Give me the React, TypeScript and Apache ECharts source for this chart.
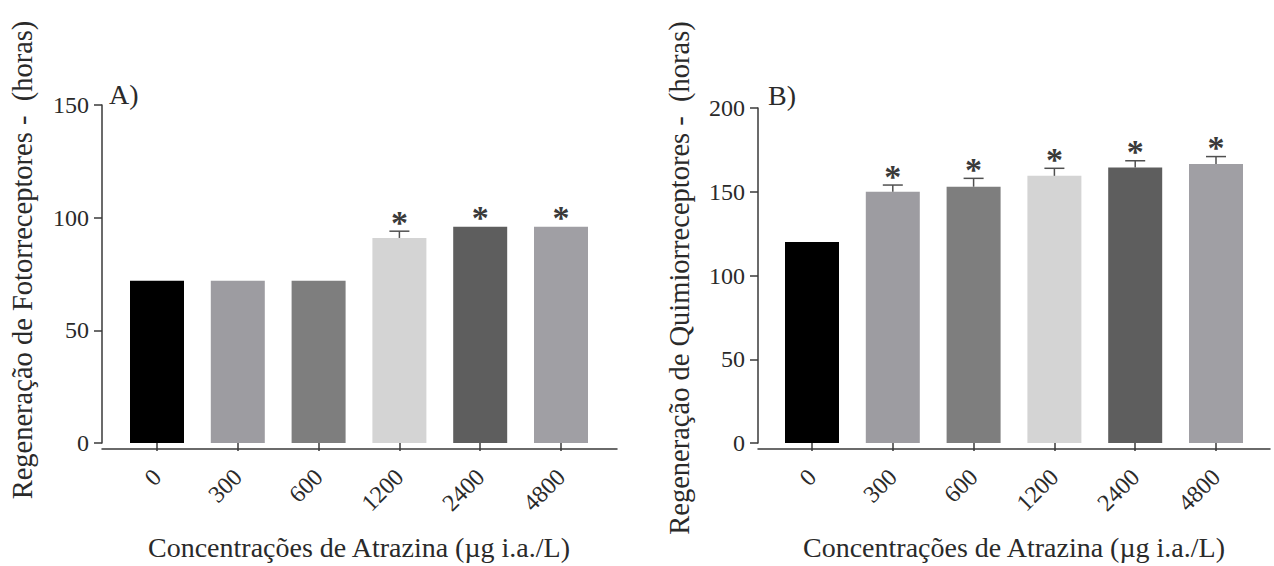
import React, { useEffect, useRef } from "react";
import * as echarts from "echarts";

const categories = ["0", "300", "600", "1200", "2400", "4800"];
const barColors = ["#000000", "#9d9ca1", "#7e7e7e", "#d4d4d4", "#5e5e5e", "#a09fa4"];

const fotoMeans = [72, 72, 72, 91, 96, 96];
const fotoErr = [0, 0, 0, 3, 0, 0];
const fotoSig = [0, 0, 0, 1, 1, 1];

const quimioMeans = [120, 150, 153, 159.5, 164.5, 166.5];
const quimioErr = [0, 4, 5, 4.5, 4, 4.5];
const quimioSig = [0, 1, 1, 1, 1, 1];

const xAxisName = "Concentrações de Atrazina (µg i.a./L)";
const yNameA = "Regeneração de Fotorreceptores -  (horas)";
const yNameB = "Regeneração de Quimiorreceptores -  (horas)";

const FONT = "Liberation Serif";
const AXIS_COLOR = "#3a3a3a";
const TEXT_COLOR = "#2a2a2a";

function errRender(params: any, api: any) {
  const i = api.value(0);
  const v = api.value(1);
  const e = api.value(2);
  const sig = api.value(3);
  const base = api.coord([i, v]);
  const top = api.coord([i, v + e]);
  const children: any[] = [];
  if (e > 0) {
    children.push({
      type: "line",
      shape: { x1: base[0], y1: base[1], x2: top[0], y2: top[1] },
      style: { stroke: "#505050", lineWidth: 1.5 },
    });
    children.push({
      type: "line",
      shape: { x1: top[0] - 10, y1: top[1], x2: top[0] + 10, y2: top[1] },
      style: { stroke: "#505050", lineWidth: 1.5 },
    });
  }
  if (sig) {
    children.push({
      type: "text",
      x: top[0],
      y: top[1] + 8,
      style: {
        text: "*",
        fontFamily: FONT,
        fontSize: 34,
        fontWeight: "bold",
        fill: "#3a3a3a",
        textAlign: "center",
        textVerticalAlign: "bottom",
      },
    });
  }
  return { type: "group", children };
}

function yAxisCfg(gridIndex: number, max: number, offset: number) {
  return {
    type: "value",
    gridIndex,
    min: 0,
    max,
    interval: 50,
    offset,
    axisLine: { show: true, lineStyle: { color: AXIS_COLOR, width: 1.5 } },
    axisTick: { show: true, length: 8, lineStyle: { color: AXIS_COLOR, width: 1.5 } },
    axisLabel: { fontFamily: FONT, fontSize: 24, color: TEXT_COLOR, margin: 13 },
    splitLine: { show: false },
  };
}

function xAxisCfg(gridIndex: number) {
  return {
    type: "category",
    gridIndex,
    data: categories,
    axisLine: { show: false },
    axisTick: { show: true, alignWithLabel: true, length: 8, lineStyle: { color: AXIS_COLOR, width: 1.5 } },
    axisLabel: { fontFamily: FONT, fontSize: 24, color: TEXT_COLOR, rotate: 45, margin: 30 },
    name: xAxisName,
    nameLocation: "middle",
    nameGap: 90,
    nameTextStyle: { fontFamily: FONT, fontSize: 28, color: TEXT_COLOR },
  };
}

function frameX(gridIndex: number) {
  return {
    type: "value",
    gridIndex,
    min: 0,
    max: 1,
    axisLine: { show: true, onZero: false, lineStyle: { color: AXIS_COLOR, width: 1.5 } },
    axisTick: { show: false },
    axisLabel: { show: false },
    splitLine: { show: false },
  };
}

function frameY(gridIndex: number) {
  return { type: "value", gridIndex, min: 0, max: 1, show: false };
}

export default function App() {
  const ref = useRef<HTMLDivElement>(null);
  useEffect(() => {
    if (!ref.current) return;
    const chart = echarts.init(ref.current, null, { renderer: "svg" });
    const option: any = {
      animation: false,
      backgroundColor: "#ffffff",
      grid: [
        { left: 116.6, right: 1274 - 601.4, top: 105, bottom: 117 },
        { left: 771.6, right: 1274 - 1256.4, top: 108, bottom: 117 },
        { left: 102, right: 1274 - 617, top: 105, bottom: 117 },
        { left: 758, right: 1274 - 1270, top: 108, bottom: 117 },
      ],
      xAxis: [xAxisCfg(0), xAxisCfg(1), frameX(2), frameX(3)],
      yAxis: [yAxisCfg(0, 150, 14.6), yAxisCfg(1, 200, 13.6), frameY(2), frameY(3)],
      series: [
        {
          type: "bar",
          xAxisIndex: 0,
          yAxisIndex: 0,
          barWidth: 54,
          data: fotoMeans.map((v, i) => ({ value: v, itemStyle: { color: barColors[i] } })),
        },
        {
          type: "custom",
          xAxisIndex: 0,
          yAxisIndex: 0,
          renderItem: errRender,
          z: 5,
          data: fotoMeans.map((v, i) => [i, v, fotoErr[i], fotoSig[i]]),
        },
        {
          type: "bar",
          xAxisIndex: 1,
          yAxisIndex: 1,
          barWidth: 54,
          data: quimioMeans.map((v, i) => ({ value: v, itemStyle: { color: barColors[i] } })),
        },
        {
          type: "custom",
          xAxisIndex: 1,
          yAxisIndex: 1,
          renderItem: errRender,
          z: 5,
          data: quimioMeans.map((v, i) => [i, v, quimioErr[i], quimioSig[i]]),
        },
      ],
      graphic: [
        {
          type: "text",
          x: 22,
          y: 260,
          rotation: Math.PI / 2,
          style: {
            text: yNameA,
            fontFamily: FONT,
            fontSize: 28.5,
            fill: TEXT_COLOR,
            textAlign: "center",
            textVerticalAlign: "middle",
          },
        },
        {
          type: "text",
          x: 679,
          y: 278,
          rotation: Math.PI / 2,
          style: {
            text: yNameB,
            fontFamily: FONT,
            fontSize: 28.5,
            fill: TEXT_COLOR,
            textAlign: "center",
            textVerticalAlign: "middle",
          },
        },
        {
          type: "text",
          x: 109,
          y: 94,
          style: { text: "A)", fontFamily: FONT, fontSize: 28, fill: TEXT_COLOR, textAlign: "left", textVerticalAlign: "middle" },
        },
        {
          type: "text",
          x: 768,
          y: 95,
          style: { text: "B)", fontFamily: FONT, fontSize: 28, fill: TEXT_COLOR, textAlign: "left", textVerticalAlign: "middle" },
        },
      ],
    };
    chart.setOption(option);
    return () => chart.dispose();
  }, []);
  return (
    <div
      ref={ref}
      style={{ position: "fixed", left: 0, top: 0, width: 1274, height: 566, background: "#fff" }}
    />
  );
}
